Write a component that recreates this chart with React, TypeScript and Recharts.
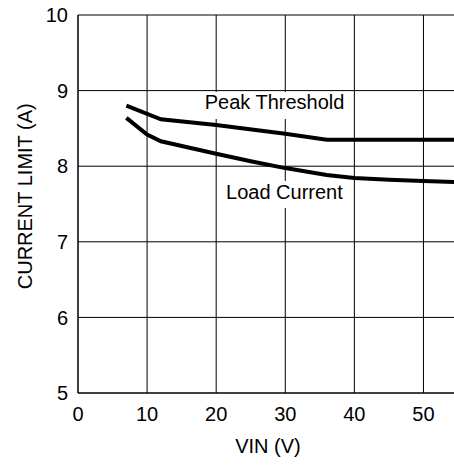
import { CartesianGrid, Line, LineChart, ReferenceArea, XAxis, YAxis } from "recharts";

const xTicks = [0, 10, 20, 30, 40, 50];
const yTicks = [5, 6, 7, 8, 9, 10];

const peakVin = [7, 12, 20, 30, 36, 55];
const peakAmps = [8.8, 8.62, 8.545, 8.43, 8.35, 8.35];

const loadVin = [7, 10, 12, 20, 25, 30, 36, 40, 45, 50, 55];
const loadAmps = [8.64, 8.42, 8.33, 8.165, 8.065, 7.975, 7.885, 7.845, 7.82, 7.805, 7.79];

const peakData = peakVin.map((vin, i) => ({ vin, amps: peakAmps[i] }));
const loadData = loadVin.map((vin, i) => ({ vin, amps: loadAmps[i] }));

const font = "'Liberation Sans', Arial, Helvetica, sans-serif";
const tickStyle = { fill: "#000", fontSize: 20, fontFamily: font };

function YLabel() {
  return (
    <text
      x={32.3}
      y={196.3}
      transform="rotate(-90 32.3 196.3)"
      textAnchor="middle"
      fill="#000"
      fontSize={20}
      fontFamily={font}
    >
      CURRENT LIMIT (A)
    </text>
  );
}

export default function App() {
  return (
    <div style={{ width: 438, height: 449, position: "relative" }}>
      <div
        style={{
          position: "fixed",
          left: 0,
          top: 0,
          width: 454,
          height: 465,
          overflow: "hidden",
          background: "#fff"
        }}
      >
        <LineChart width={458} height={465} margin={{ top: 15, right: 0, bottom: 0, left: 8 }}>
          <CartesianGrid stroke="#000" strokeWidth={1} />
          <XAxis
            dataKey="vin"
            type="number"
            domain={[0, 55]}
            ticks={xTicks}
            height={72}
            tick={tickStyle}
            tickLine={false}
            tickMargin={8}
            axisLine={{ stroke: "#000" }}
            allowDuplicatedCategory={false}
            label={{
              value: "VIN (V)",
              position: "insideBottom",
              offset: 12,
              fill: "#000",
              fontSize: 20,
              fontFamily: font
            }}
          />
          <YAxis
            dataKey="amps"
            type="number"
            domain={[5, 10]}
            ticks={yTicks}
            width={70}
            tick={tickStyle}
            tickLine={false}
            tickMargin={4}
            axisLine={{ stroke: "#000" }}
            label={<YLabel />}
          />
          <ReferenceArea
            x1={17.5}
            x2={39.4}
            y1={8.624}
            y2={8.981}
            fill="#fff"
            fillOpacity={1}
            stroke="none"
            label={{
              value: "Peak Threshold",
              position: "insideBottom",
              offset: 10,
              fill: "#000",
              fontSize: 20,
              fontFamily: font
            }}
          />
          <ReferenceArea
            x1={20.55}
            x2={39.2}
            y1={7.447}
            y2={7.804}
            fill="#fff"
            fillOpacity={1}
            stroke="none"
            label={{
              value: "Load Current",
              position: "insideBottom",
              offset: 9.5,
              fill: "#000",
              fontSize: 20,
              fontFamily: font
            }}
          />
          <Line
            data={peakData}
            dataKey="amps"
            stroke="#000"
            strokeWidth={4}
            dot={false}
            isAnimationActive={false}
          />
          <Line
            data={loadData}
            dataKey="amps"
            stroke="#000"
            strokeWidth={4}
            dot={false}
            isAnimationActive={false}
          />
        </LineChart>
      </div>
    </div>
  );
}
